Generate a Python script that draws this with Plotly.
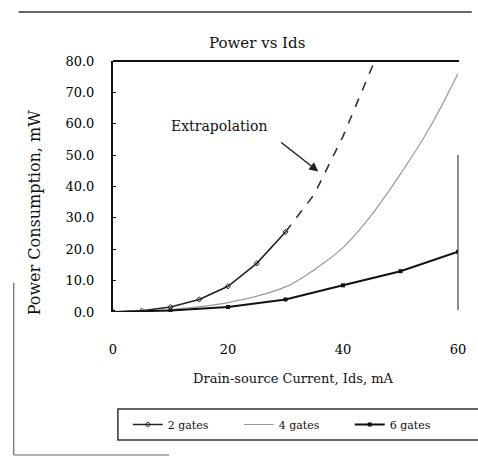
import plotly.graph_objects as go

# Data
gates2_x = [0, 5, 10, 15, 20, 25, 30]
gates2_y = [0.0, 0.4, 1.6, 4.0, 8.2, 15.5, 25.5]
extrap_x = [30, 35, 40, 45.5]
extrap_y = [25.5, 37.5, 56.0, 80.0]
gates4_x = [0, 10, 20, 30, 35, 40, 45, 50, 55, 60]
gates4_y = [0.0, 0.8, 3.0, 8.0, 13.5, 20.5, 31.0, 44.0, 58.5, 76.0]
gates6_x = [0, 10, 20, 30, 40, 50, 60]
gates6_y = [0.0, 0.5, 1.6, 4.0, 8.5, 13.0, 19.2]
x_ticks = [0, 20, 40, 60]
x_ticklabels = ["0", "20", "40", "60"]
y_ticks = [0, 10, 20, 30, 40, 50, 60, 70, 80]

W, H = 478, 458
L, R, T, B = 113, 14, 61, 146
pw, ph = W - L - R, H - T - B

def px(xp):
    return (xp - L) / pw

def py(yp):
    return (H - B - yp) / ph

FONT = "DejaVu Serif"

fig = go.Figure()
fig.add_trace(go.Scatter(x=gates2_x, y=gates2_y, mode="lines+markers", name="2 gates",
                         line=dict(color="#222", width=1.6),
                         marker=dict(symbol="diamond-open", size=4, color="#222")))
fig.add_trace(go.Scatter(x=extrap_x, y=extrap_y, mode="lines", showlegend=False,
                         line=dict(color="#333", width=1.6, dash="dash")))
fig.add_trace(go.Scatter(x=gates4_x, y=gates4_y, mode="lines", name="4 gates",
                         line=dict(color="#9a9a9a", width=1.2, shape="spline")))
fig.add_trace(go.Scatter(x=gates6_x, y=gates6_y, mode="lines+markers", name="6 gates",
                         line=dict(color="#111", width=2),
                         marker=dict(symbol="square", size=4, color="#111")))

fig.update_layout(
    width=W, height=H,
    margin=dict(l=L, r=R, t=T, b=B),
    paper_bgcolor="white", plot_bgcolor="white",
    font=dict(family=FONT, color="#111", size=12),
    showlegend=True,
    legend=dict(orientation="h", x=px(128), y=py(424.5), xanchor="left", yanchor="middle",
                borderwidth=0, bgcolor="rgba(0,0,0,0)", font=dict(size=11, family=FONT),
                entrywidth=66, entrywidthmode="pixels", itemwidth=30),
    xaxis=dict(range=[0, 60], tickvals=x_ticks, ticktext=x_ticklabels, showgrid=False,
               zeroline=False, showline=False, ticks="", ticklabelstandoff=28,
               tickfont=dict(size=13, family=FONT, color="#000")),
    yaxis=dict(range=[0, 80], tickvals=y_ticks, tickformat=".1f", showgrid=False,
               zeroline=False, showline=True, linecolor="#111", linewidth=2,
               ticks="inside", ticklen=3, tickcolor="#111", ticklabelstandoff=14,
               tickfont=dict(size=13, family=FONT, color="#000")),
)

annotations = [
    dict(text="Power vs Ids", x=px(260), y=py(43), xref="paper", yref="paper",
         xanchor="center", yanchor="middle",
         showarrow=False, font=dict(size=15, family=FONT)),
    dict(text="Drain-source Current, Ids, mA", x=px(297), y=py(378), xref="paper", yref="paper",
         xanchor="center", yanchor="middle",
         showarrow=False, font=dict(size=13, family=FONT)),
    dict(text="Power Consumption, mW", x=px(33), y=py(212), xref="paper", yref="paper",
         xanchor="center", yanchor="middle",
         showarrow=False, textangle=-90, font=dict(size=16, family=FONT)),
    dict(text="Extrapolation", x=18.5, y=59.2, xref="x", yref="y", showarrow=False,
         xanchor="center", yanchor="middle",
         font=dict(size=14, family=FONT)),
    dict(text="", x=35.7, y=44.8, ax=29, ay=54.4, xref="x", yref="y", axref="x", ayref="y",
         showarrow=True, arrowhead=2, arrowsize=1.2, arrowwidth=1.5, arrowcolor="#222"),
]
fig.update_layout(annotations=annotations)

shapes = [
    # top axis line
    dict(type="line", xref="paper", yref="paper", x0=0, x1=px(465), y0=1, y1=1,
         line=dict(color="#111", width=2)),
    # partial right line
    dict(type="line", xref="paper", yref="paper", x0=px(464), x1=px(464), y0=py(155), y1=py(310),
         line=dict(color="#444", width=1.2)),
    # legend box
    dict(type="rect", xref="paper", yref="paper", x0=px(118), x1=px(490), y0=py(409), y1=py(440),
         line=dict(color="#333", width=1.5)),
    # scan frame
    dict(type="line", xref="paper", yref="paper", x0=px(17), x1=px(478), y0=py(12), y1=py(12),
         line=dict(color="#666", width=2)),
    dict(type="line", xref="paper", yref="paper", x0=px(12), x1=px(12), y0=py(283), y1=py(455),
         line=dict(color="#666", width=1.2)),
    dict(type="line", xref="paper", yref="paper", x0=px(12), x1=px(170), y0=py(455), y1=py(455),
         line=dict(color="#666", width=1.2)),
]
fig.update_layout(shapes=shapes)

fig.write_html("out.html")
